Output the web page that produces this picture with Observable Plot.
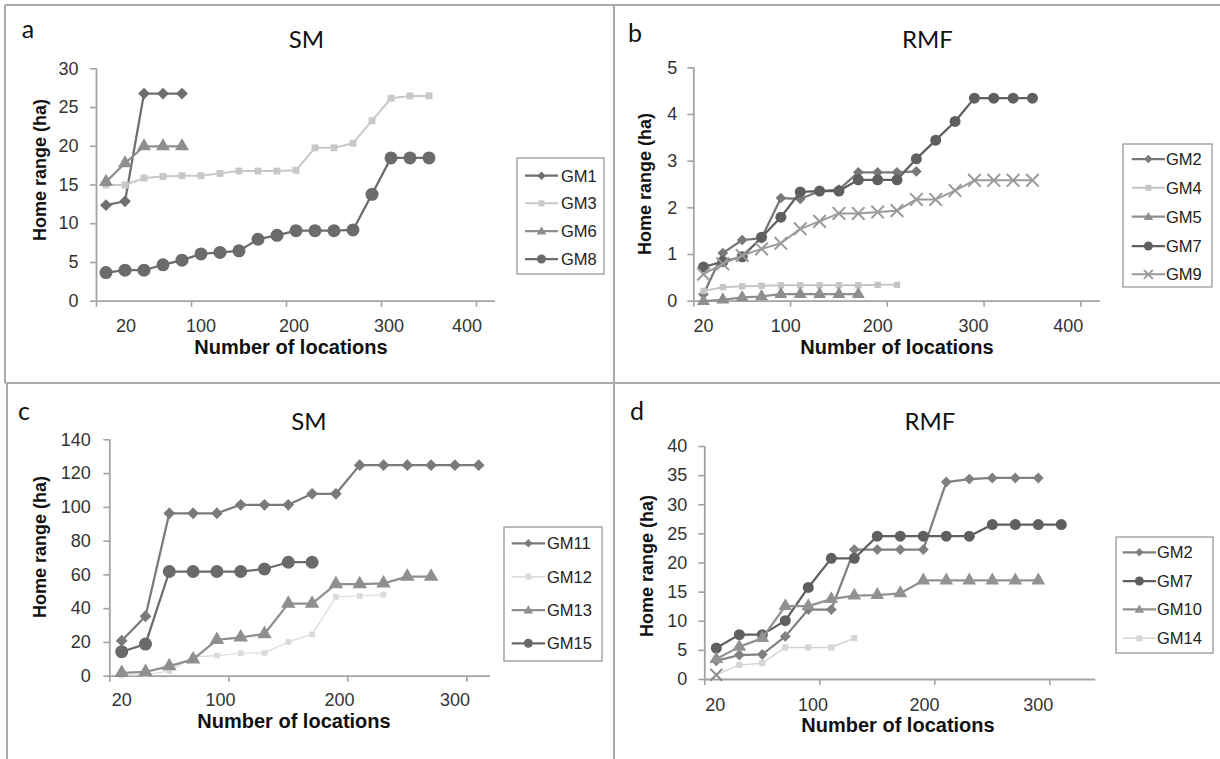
<!DOCTYPE html>
<html>
<head>
<meta charset="utf-8">
<script src="https://cdn.jsdelivr.net/npm/d3@7"></script>
<script src="https://cdn.jsdelivr.net/npm/@observablehq/plot@0.6"></script>
<style>
html,body{margin:0;padding:0;background:#fff;}
#root{position:relative;width:1220px;height:759px;overflow:hidden;background:#fff;}
#root svg{position:absolute;}
</style>
</head>
<body>
<div id="root"></div>
<script>
// ---------------- data ----------------
const locations = [20,40,60,80,100,120,140,160,180,200,220,240,260,280,300,320,340,360,380,400,420];

// Panel a – SM
const aGM1 = [12.4, 12.9, 26.8, 26.8, 26.8];
const aGM3 = [15.0, 15.0, 15.9, 16.1, 16.2, 16.2, 16.5, 16.8, 16.8, 16.8, 16.9, 19.8, 19.8, 20.4, 23.3, 26.2, 26.5, 26.5];
const aGM6 = [15.4, 17.8, 20.0, 20.0, 20.0];
const aGM8 = [3.7, 4.0, 4.0, 4.7, 5.3, 6.1, 6.3, 6.5, 8.0, 8.5, 9.1, 9.1, 9.1, 9.2, 13.8, 18.5, 18.5, 18.5];
const aYTicks = [0, 5, 10, 15, 20, 25, 30];
const aXLabels = ["20", "100", "200", "300", "400"];
const aXLabelAt = [41, 120, 218, 318, 400];
const aXTickMarks = [10, 110, 210, 310, 410];

// Panel b – RMF
const bGM2 = [0.15, 1.03, 1.31, 1.35, 2.21, 2.19, 2.36, 2.39, 2.76, 2.76, 2.76, 2.78];
const bGM4 = [0.22, 0.30, 0.32, 0.33, 0.34, 0.34, 0.34, 0.34, 0.34, 0.35, 0.35];
const bGM5 = [0.0, 0.03, 0.08, 0.10, 0.15, 0.15, 0.15, 0.15, 0.15];
const bGM7 = [0.73, 0.85, 0.95, 1.37, 1.80, 2.34, 2.36, 2.36, 2.60, 2.60, 2.60, 3.05, 3.45, 3.85, 4.35, 4.35, 4.35, 4.35];
const bGM9 = [0.58, 0.80, 0.98, 1.12, 1.24, 1.55, 1.71, 1.88, 1.88, 1.91, 1.94, 2.18, 2.18, 2.37, 2.59, 2.59, 2.59, 2.59];
const bYTicks = [0, 1, 2, 3, 4, 5];
const bXLabels = ["20", "100", "200", "300", "400"];
const bXLabelAt = [20, 105, 200, 299, 397];
const bXTickMarks = [10, 110, 210, 310, 410];

// Panel c – SM
const cGM11 = [21, 35.5, 96.5, 96.5, 96.5, 101.5, 101.5, 101.5, 108, 108, 125, 125, 125, 125, 125, 125];
const cGM12 = [0.5, 1.0, 3.0, 11.5, 12.2, 13.6, 13.8, 20.3, 24.8, 47.0, 47.5, 48.3];
const cGM13 = [2.0, 2.5, 6.0, 10.0, 21.5, 23.0, 25.0, 43.0, 43.0, 54.5, 54.5, 55.0, 59.0, 59.0];
const cGM15 = [14.5, 19.0, 62.0, 62.0, 62.0, 62.0, 63.5, 67.5, 67.5];
const cYTicks = [0, 20, 40, 60, 80, 100, 120, 140];
const cXLabels = ["20", "100", "200", "300"];
const cXLabelAt = [20, 103, 203, 300];
const cXTickMarks = [10, 110, 210, 310];

// Panel d – RMF
const dGM2 = [3.2, 4.2, 4.3, 7.4, 12.0, 12.0, 22.3, 22.3, 22.3, 22.3, 33.9, 34.4, 34.6, 34.6, 34.6];
const dGM7 = [5.4, 7.7, 7.7, 10.1, 15.8, 20.8, 20.8, 24.6, 24.6, 24.6, 24.6, 24.6, 26.6, 26.6, 26.6, 26.6];
const dGM10 = [3.5, 5.6, 7.1, 12.6, 12.6, 13.8, 14.4, 14.5, 14.8, 17.0, 17.0, 17.0, 17.0, 17.0, 17.0];
const dGM14 = [0.8, 2.5, 2.8, 5.5, 5.5, 5.5, 7.1];
const dYTicks = [0, 5, 10, 15, 20, 25, 30, 35, 40];
const dXLabels = ["20", "100", "200", "300"];
const dXLabelAt = [19, 104, 201, 300];
const dXTickMarks = [10, 110, 210, 310];

const panelTitles = ["SM", "RMF", "SM", "RMF"];
const panelLetters = ["a", "b", "c", "d"];
const xTitle = "Number of locations";
const yTitle = "Home range (ha)";

// ---------------- drawing ----------------
const root = document.getElementById("root");
const AXIS = "#a3a3a3";
const TICKTXT = "#333333";
const FONT = "'Liberation Sans', Arial, sans-serif";
const TICKFONT = 18;

function rows(values) { return values.map((v, i) => ({x: locations[i], y: v})); }

function dotStyle(symbol, color) {
  return symbol === "times"
    ? {fill: "none", stroke: color, strokeWidth: 2}
    : {fill: color, stroke: "none"};
}

function makePanel(p) {
  const labelMap = new Map(p.xLabelAt.map((v, i) => [v, p.xLabels[i]]));
  const marks = [
    Plot.axisY({ticks: p.yTicks, tickSize: 6, tickPadding: p.yPad, tickFormat: d => String(d),
      stroke: AXIS, strokeWidth: 1.6, fill: TICKTXT, fontSize: TICKFONT, label: null}),
    Plot.axisX({ticks: p.xTickMarks, tickSize: 6, tickFormat: () => "", stroke: AXIS, strokeWidth: 1.6, label: null}),
    Plot.axisX({ticks: p.xLabelAt, tickSize: 0, tickPadding: p.xPad, tickFormat: d => labelMap.get(d),
      fill: TICKTXT, fontSize: TICKFONT, label: null}),
    Plot.ruleX([p.xDomain[0]], {stroke: AXIS, strokeWidth: 1.8}),
    Plot.ruleY([p.yDomain[0]], {stroke: AXIS, strokeWidth: 1.8})
  ];
  for (const s of p.series) {
    const data = rows(s.values);
    marks.push(Plot.line(data, {x: "x", y: "y", stroke: s.color, strokeWidth: s.lw}));
    const main = s.firstSymbol ? data.slice(1) : data;
    marks.push(Plot.dot(main, {x: "x", y: "y", symbol: s.symbol, r: s.r, ...dotStyle(s.symbol, s.color)}));
    if (s.firstSymbol) {
      marks.push(Plot.dot(data.slice(0, 1), {x: "x", y: "y", symbol: s.firstSymbol, r: 5.5,
        ...dotStyle(s.firstSymbol, s.firstColor)}));
    }
  }
  const svg = Plot.plot({
    width: p.width, height: p.height,
    marginLeft: p.ml, marginRight: p.mr, marginTop: p.mt, marginBottom: p.mb,
    x: {domain: p.xDomain, label: null},
    y: {domain: p.yDomain, label: null},
    style: {background: "transparent", fontFamily: FONT, overflow: "visible"},
    marks
  });
  svg.style.left = p.left + "px";
  svg.style.top = p.top + "px";
  root.appendChild(svg);
}

const panels = [
  {left: 0, top: 0, width: 505, height: 370, ml: 96, mr: 10, mt: 68.3, mb: 69.3,
   xDomain: [10, 430], yDomain: [0, 30], yTicks: aYTicks, yPad: 12, xPad: 18,
   xLabels: aXLabels, xLabelAt: aXLabelAt, xTickMarks: aXTickMarks,
   series: [
     {name: "GM1", values: aGM1, color: "#6f6f6f", symbol: "diamond2", r: 5.3, lw: 2.25},
     {name: "GM3", values: aGM3, color: "#c8c8c8", symbol: "square", r: 3.9, lw: 2},
     {name: "GM6", values: aGM6, color: "#8e8e8e", symbol: "triangle", r: 5.2, lw: 2.25},
     {name: "GM8", values: aGM8, color: "#6b6b6b", symbol: "circle", r: 6.5, lw: 2.25}
   ]},
  {left: 600, top: 0, width: 509.7, height: 370, ml: 93.3, mr: 10, mt: 67.3, mb: 69.3,
   xDomain: [10, 430], yDomain: [0, 5], yTicks: bYTicks, yPad: 10.5, xPad: 18,
   xLabels: bXLabels, xLabelAt: bXLabelAt, xTickMarks: bXTickMarks,
   series: [
     {name: "GM2", values: bGM2, color: "#787878", symbol: "diamond2", r: 4.8, lw: 2.25},
     {name: "GM4", values: bGM4, color: "#c5c5c5", symbol: "square", r: 3.6, lw: 2},
     {name: "GM5", values: bGM5, color: "#8e8e8e", symbol: "triangle", r: 4.8, lw: 2.25},
     {name: "GM7", values: bGM7, color: "#5f5f5f", symbol: "circle", r: 5.5, lw: 2.25},
     {name: "GM9", values: bGM9, color: "#9a9a9a", symbol: "times", r: 5.8, lw: 2}
   ]},
  {left: 0, top: 380, width: 500, height: 370, ml: 109.3, mr: 9.9, mt: 59.3, mb: 74.3,
   xDomain: [10, 330], yDomain: [0, 140], yTicks: cYTicks, yPad: 13, xPad: 17.5,
   xLabels: cXLabels, xLabelAt: cXLabelAt, xTickMarks: cXTickMarks,
   series: [
     {name: "GM11", values: cGM11, color: "#7a7a7a", symbol: "diamond2", r: 5.3, lw: 2.25},
     {name: "GM12", values: cGM12, color: "#dadada", symbol: "square", r: 3.2, lw: 1.2},
     {name: "GM13", values: cGM13, color: "#8f8f8f", symbol: "triangle", r: 5.4, lw: 2.25},
     {name: "GM15", values: cGM15, color: "#6a6a6a", symbol: "circle", r: 6.5, lw: 2.25}
   ]},
  {left: 600, top: 380, width: 505.3, height: 370, ml: 104.3, mr: 10, mt: 66, mb: 71,
   xDomain: [10, 350], yDomain: [0, 40], yTicks: dYTicks, yPad: 11.5, xPad: 19,
   xLabels: dXLabels, xLabelAt: dXLabelAt, xTickMarks: dXTickMarks,
   series: [
     {name: "GM2", values: dGM2, color: "#808080", symbol: "diamond2", r: 4.9, lw: 2.25},
     {name: "GM7", values: dGM7, color: "#5f5f5f", symbol: "circle", r: 5.5, lw: 2.25},
     {name: "GM10", values: dGM10, color: "#929292", symbol: "triangle", r: 5.1, lw: 2.25},
     {name: "GM14", values: dGM14, color: "#d5d5d5", symbol: "square", r: 3.5, lw: 1.5,
      firstSymbol: "times", firstColor: "#8a8a8a"}
   ]}
];
panels.forEach(makePanel);

// ---------------- overlay: frame, titles, legends ----------------
const ov = d3.select(root).append("svg")
  .attr("width", 1220).attr("height", 759)
  .style("left", "0px").style("top", "0px")
  .style("font-family", FONT);

const BORDER = "#ababab";
[[5, 5, 1220, 5], [5, 5, 5, 383], [7, 383, 7, 759], [614, 5, 614, 759], [5, 383, 1220, 383]]
  .forEach(([x1, y1, x2, y2]) => ov.append("line")
    .attr("x1", x1).attr("y1", y1).attr("x2", x2).attr("y2", y2)
    .attr("stroke", BORDER).attr("stroke-width", 2));

const layout = [
  {letter: [21.7, 38.3], title: [306.5, 48.3], xt: [291, 354], yt: [46, 170],
   legend: {x: 517, y: 158, w: 87, h: 116, rows: [175.7, 203.3, 231, 259], lx0: 525, lx1: 558, tx: 561}},
  {letter: [628, 41.7], title: [927.5, 48.3], xt: [897, 354], yt: [651, 184],
   legend: {x: 1123, y: 144, w: 89, h: 143, rows: [159, 187.7, 216.7, 246, 274.3], lx0: 1131.7, lx1: 1165, tx: 1166}},
  {letter: [18, 420], title: [309, 430], xt: [294, 728], yt: [46, 547],
   legend: {x: 504, y: 527, w: 98, h: 134, rows: [543.3, 576.7, 610, 643.3], lx0: 511.7, lx1: 545, tx: 547}},
  {letter: [630, 420], title: [930, 430], xt: [898, 732], yt: [653, 566],
   legend: {x: 1116, y: 537, w: 97, h: 116, rows: [552.3, 581, 609.3, 638.3], lx0: 1122.7, lx1: 1156, tx: 1157}}
];

function glyph(g, sym, cx, cy, color) {
  if (sym === "circle") g.append("circle").attr("cx", cx).attr("cy", cy).attr("r", 4.5).attr("fill", color);
  else if (sym === "square") g.append("rect").attr("x", cx - 3).attr("y", cy - 3).attr("width", 6).attr("height", 6).attr("fill", color);
  else if (sym === "diamond2") g.append("path").attr("d", `M${cx},${cy - 4.2}L${cx + 4.2},${cy}L${cx},${cy + 4.2}L${cx - 4.2},${cy}Z`).attr("fill", color);
  else if (sym === "triangle") g.append("path").attr("d", `M${cx},${cy - 4.8}L${cx + 4.8},${cy + 3.4}L${cx - 4.8},${cy + 3.4}Z`).attr("fill", color);
  else if (sym === "times") g.append("path").attr("d", `M${cx - 4.5},${cy - 4.5}L${cx + 4.5},${cy + 4.5}M${cx + 4.5},${cy - 4.5}L${cx - 4.5},${cy + 4.5}`).attr("stroke", color).attr("stroke-width", 1.8).attr("fill", "none");
}

layout.forEach((L, i) => {
  ov.append("text").attr("x", L.letter[0]).attr("y", L.letter[1])
    .attr("font-family", "Lato, 'Open Sans', sans-serif").attr("font-size", 25).attr("fill", "#111")
    .text(panelLetters[i]);
  ov.append("text").attr("x", L.title[0]).attr("y", L.title[1]).attr("text-anchor", "middle")
    .attr("font-family", "Lato, 'Open Sans', sans-serif").attr("font-size", 24).attr("fill", "#111")
    .text(panelTitles[i]);
  ov.append("text").attr("x", L.xt[0]).attr("y", L.xt[1]).attr("text-anchor", "middle")
    .attr("font-size", 20).attr("font-weight", "bold").attr("fill", "#111").text(xTitle);
  ov.append("text").attr("transform", `translate(${L.yt[0]},${L.yt[1]}) rotate(-90)`).attr("text-anchor", "middle")
    .attr("font-size", 18).attr("font-weight", "bold").attr("fill", "#111").text(yTitle);

  const lg = L.legend;
  const g = ov.append("g");
  g.append("rect").attr("x", lg.x).attr("y", lg.y).attr("width", lg.w).attr("height", lg.h)
    .attr("fill", "#fff").attr("stroke", "#8f8f8f").attr("stroke-width", 1.2);
  panels[i].series.forEach((s, j) => {
    const cy = lg.rows[j];
    g.append("line").attr("x1", lg.lx0).attr("x2", lg.lx1).attr("y1", cy).attr("y2", cy)
      .attr("stroke", s.color).attr("stroke-width", Math.max(1.5, s.lw));
    glyph(g, s.symbol, (lg.lx0 + lg.lx1) / 2, cy, s.color);
    g.append("text").attr("x", lg.tx).attr("y", cy + 6).attr("font-size", 16.5).attr("fill", "#222").text(s.name);
  });
});
</script>
</body>
</html>
